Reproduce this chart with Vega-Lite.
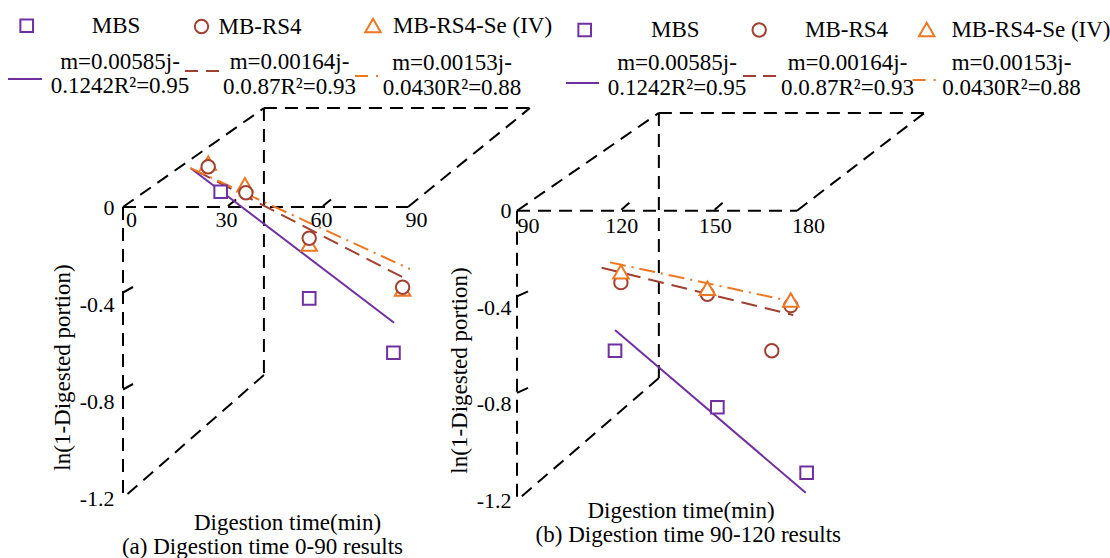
{
  "$schema": "https://vega.github.io/schema/vega-lite/v6.json",
  "width": 1110,
  "height": 558,
  "autosize": {"type": "none"},
  "padding": 0,
  "background": "white",
  "config": {
    "font": "Liberation Serif",
    "view": {"stroke": null},
    "axis": {"labelFont": "Liberation Serif", "titleFont": "Liberation Serif", "labelColor": "black", "titleColor": "black", "labelFontSize": 22, "titleFontSize": 23, "titleFontWeight": "normal", "grid": false, "domain": false, "ticks": false, "labelOverlap": false, "labelFlush": false},
    "legend": {"labelFont": "Liberation Serif", "labelFontSize": 23, "labelColor": "black", "labelLimit": 0, "padding": 0},
    "text": {"font": "Liberation Serif", "fontSize": 23, "color": "black"}
  },
  "datasets": {
    "box": [
      {"panel": "a", "t1": 0, "v1": 0, "t2": 90, "v2": 0},
      {"panel": "a", "t1": 0, "v1": 0, "t2": 0, "v2": -1.2},
      {"panel": "a", "t1": 0, "v1": 0, "t2": 44.5, "v2": 0.408},
      {"panel": "a", "t1": 44.5, "v1": 0.408, "t2": 128.5, "v2": 0.408},
      {"panel": "a", "t1": 90, "v1": 0, "t2": 128.5, "v2": 0.408},
      {"panel": "a", "t1": 44.5, "v1": 0.408, "t2": 44.5, "v2": -0.693},
      {"panel": "a", "t1": 44.5, "v1": -0.693, "t2": 0, "v2": -1.2},
      {"panel": "b", "t1": 90, "v1": 0, "t2": 180, "v2": 0},
      {"panel": "b", "t1": 90, "v1": 0, "t2": 90, "v2": -1.2},
      {"panel": "b", "t1": 90, "v1": 0, "t2": 135.6, "v2": 0.405},
      {"panel": "b", "t1": 135.6, "v1": 0.405, "t2": 221, "v2": 0.405},
      {"panel": "b", "t1": 180, "v1": 0, "t2": 221, "v2": 0.405},
      {"panel": "b", "t1": 135.6, "v1": 0.405, "t2": 135.6, "v2": -0.693},
      {"panel": "b", "t1": 135.6, "v1": -0.693, "t2": 90, "v2": -1.2}
    ],
    "ticks": [
      {"panel": "a", "axis": "y", "t": 0, "v": -0.4}, {"panel": "a", "axis": "y", "t": 0, "v": -0.8},
      {"panel": "a", "axis": "x", "t": 30, "v": 0}, {"panel": "a", "axis": "x", "t": 60, "v": 0},
      {"panel": "b", "axis": "y", "t": 90, "v": -0.4}, {"panel": "b", "axis": "y", "t": 90, "v": -0.8},
      {"panel": "b", "axis": "x", "t": 120, "v": 0}, {"panel": "b", "axis": "x", "t": 150, "v": 0}
    ],
    "pts": [
      {"panel": "a", "series": "MBS", "t": 30.85, "v": 0.063},
      {"panel": "a", "series": "MBS", "t": 58.8, "v": -0.377},
      {"panel": "a", "series": "MBS", "t": 85.4, "v": -0.601},
      {"panel": "a", "series": "MB-RS4", "t": 26.9, "v": 0.166},
      {"panel": "a", "series": "MB-RS4", "t": 38.8, "v": 0.059},
      {"panel": "a", "series": "MB-RS4", "t": 58.8, "v": -0.129},
      {"panel": "a", "series": "MB-RS4", "t": 88.3, "v": -0.331},
      {"panel": "a", "series": "MB-RS4-Se (IV)", "t": 26.9, "v": 0.181},
      {"panel": "a", "series": "MB-RS4-Se (IV)", "t": 38.5, "v": 0.092},
      {"panel": "a", "series": "MB-RS4-Se (IV)", "t": 58.8, "v": -0.153},
      {"panel": "a", "series": "MB-RS4-Se (IV)", "t": 88.3, "v": -0.338},
      {"panel": "b", "series": "MBS", "t": 121.5, "v": -0.58},
      {"panel": "b", "series": "MBS", "t": 154.4, "v": -0.814},
      {"panel": "b", "series": "MBS", "t": 183.1, "v": -1.085},
      {"panel": "b", "series": "MB-RS4", "t": 123.4, "v": -0.298},
      {"panel": "b", "series": "MB-RS4", "t": 151.2, "v": -0.346},
      {"panel": "b", "series": "MB-RS4", "t": 178.0, "v": -0.393},
      {"panel": "b", "series": "MB-RS4", "t": 171.9, "v": -0.58},
      {"panel": "b", "series": "MB-RS4-Se (IV)", "t": 123.4, "v": -0.253},
      {"panel": "b", "series": "MB-RS4-Se (IV)", "t": 151.2, "v": -0.321},
      {"panel": "b", "series": "MB-RS4-Se (IV)", "t": 178.0, "v": -0.37}
    ],
    "fits": [
      {"panel": "a", "series": "MBS", "fit": "m=0.00585j-|0.1242R²=0.95", "t": 21.4, "v": 0.16},
      {"panel": "a", "series": "MBS", "fit": "m=0.00585j-|0.1242R²=0.95", "t": 85.6, "v": -0.477},
      {"panel": "a", "series": "MB-RS4", "fit": "m=0.00164j-|0.0.87R²=0.93", "t": 23.0, "v": 0.15},
      {"panel": "a", "series": "MB-RS4", "fit": "m=0.00164j-|0.0.87R²=0.93", "t": 90, "v": -0.301},
      {"panel": "a", "series": "MB-RS4-Se (IV)", "fit": "m=0.00153j-|0.0430R²=0.88", "t": 21.2, "v": 0.161},
      {"panel": "a", "series": "MB-RS4-Se (IV)", "fit": "m=0.00153j-|0.0430R²=0.88", "t": 90.6, "v": -0.256},
      {"panel": "b", "series": "MBS", "fit": "m=0.00585j-|0.1242R²=0.95", "t": 121.5, "v": -0.494},
      {"panel": "b", "series": "MBS", "fit": "m=0.00585j-|0.1242R²=0.95", "t": 182.8, "v": -1.168},
      {"panel": "b", "series": "MB-RS4", "fit": "m=0.00164j-|0.0.87R²=0.93", "t": 117.2, "v": -0.236},
      {"panel": "b", "series": "MB-RS4", "fit": "m=0.00164j-|0.0.87R²=0.93", "t": 178.8, "v": -0.432},
      {"panel": "b", "series": "MB-RS4-Se (IV)", "fit": "m=0.00153j-|0.0430R²=0.88", "t": 119.9, "v": -0.214},
      {"panel": "b", "series": "MB-RS4-Se (IV)", "fit": "m=0.00153j-|0.0430R²=0.88", "t": 178.8, "v": -0.377}
    ]
  },
  "layer": [
    {
      "data": {"name": "box"},
      "transform": [{"filter": "datum.panel == 'a'"}],
      "mark": {"type": "rule", "color": "black", "strokeWidth": 2, "strokeDash": [13, 8]},
      "encoding": {
        "x": {"field": "t1", "type": "quantitative", "scale": {"domain": [-38.842, 311.68], "nice": false, "zero": false},
          "axis": {"orient": "bottom", "offset": -351, "values": [0, 30, 60, 90], "labelPadding": 2, "labelOffset": 8, "title": "Digestion time(min)", "titleX": 287, "titleY": 315.5, "titleAlign": "center", "titleBaseline": "middle", "titleAngle": 0, "zindex": 1}},
        "y": {"field": "v1", "type": "quantitative", "scale": {"domain": [-1.44742, 0.85361], "nice": false, "zero": false},
          "axis": {"orient": "left", "offset": -123, "values": [0, -0.4, -0.8, -1.2], "labelPadding": 9, "labelExpr": "(datum.value < 0 ? '-' : '') + format(abs(datum.value), datum.value == 0 ? 'd' : '.1f')", "title": "ln(1-Digested portion)", "titleX": -61, "titleY": 367, "titleAlign": "center", "titleBaseline": "middle", "titleAngle": 270, "zindex": 1}},
        "x2": {"field": "t2"},
        "y2": {"field": "v2"}
      }
    },
    {
      "data": {"name": "box"},
      "transform": [{"filter": "datum.panel == 'b'"}],
      "mark": {"type": "rule", "color": "black", "strokeWidth": 2, "strokeDash": [13, 8]},
      "encoding": {
        "x": {"field": "t1", "type": "quantitative", "scale": {"domain": [-76.18, 280.61], "nice": false, "zero": false},
          "axis": {"orient": "bottom", "offset": -347.3, "values": [90, 120, 150, 180], "labelPadding": 5, "labelOffset": 11, "title": "Digestion time(min)", "titleX": 680.5, "titleY": 299.5, "titleAlign": "center", "titleBaseline": "middle", "titleAngle": 0, "zindex": 1}},
        "y": {"field": "v1", "type": "quantitative", "scale": {"domain": [-1.4381, 0.87246], "nice": false, "zero": false},
          "axis": {"orient": "left", "offset": -517, "values": [0, -0.4, -0.8, -1.2], "labelPadding": 6, "labelExpr": "(datum.value < 0 ? '-' : '') + format(abs(datum.value), datum.value == 0 ? 'd' : '.1f')", "title": "ln(1-Digested portion)", "titleX": -57.5, "titleY": 370, "titleAlign": "center", "titleBaseline": "middle", "titleAngle": 270, "zindex": 1}},
        "x2": {"field": "t2"},
        "y2": {"field": "v2"}
      }
    },
    {
      "data": {"name": "ticks"},
      "transform": [{"filter": "datum.panel == 'a' && datum.axis == 'y'"}],
      "mark": {"type": "point", "shape": "M0,-1.15L1,-1.7", "size": 400, "filled": false, "color": "black", "strokeWidth": 2, "opacity": 1},
      "encoding": {
        "x": {"field": "t", "type": "quantitative", "scale": {"domain": [-38.842, 311.68], "nice": false, "zero": false}, "axis": null},
        "y": {"field": "v", "type": "quantitative", "scale": {"domain": [-1.44742, 0.85361], "nice": false, "zero": false}, "axis": null}
      }
    },
    {
      "data": {"name": "ticks"},
      "transform": [{"filter": "datum.panel == 'a' && datum.axis == 'x'"}],
      "mark": {"type": "point", "shape": "M1,-0.1L1.8,-0.75", "size": 400, "filled": false, "color": "black", "strokeWidth": 2, "opacity": 1},
      "encoding": {
        "x": {"field": "t", "type": "quantitative", "scale": {"domain": [-38.842, 311.68], "nice": false, "zero": false}, "axis": null},
        "y": {"field": "v", "type": "quantitative", "scale": {"domain": [-1.44742, 0.85361], "nice": false, "zero": false}, "axis": null}
      }
    },
    {
      "data": {"name": "ticks"},
      "transform": [{"filter": "datum.panel == 'b' && datum.axis == 'y'"}],
      "mark": {"type": "point", "shape": "M0,-1.1L1.1,-1.6", "size": 400, "filled": false, "color": "black", "strokeWidth": 2, "opacity": 1},
      "encoding": {
        "x": {"field": "t", "type": "quantitative", "scale": {"domain": [-76.18, 280.61], "nice": false, "zero": false}, "axis": null},
        "y": {"field": "v", "type": "quantitative", "scale": {"domain": [-1.4381, 0.87246], "nice": false, "zero": false}, "axis": null}
      }
    },
    {
      "data": {"name": "ticks"},
      "transform": [{"filter": "datum.panel == 'b' && datum.axis == 'x'"}],
      "mark": {"type": "point", "shape": "M1.1,-0.1L1.9,-0.8", "size": 400, "filled": false, "color": "black", "strokeWidth": 2, "opacity": 1},
      "encoding": {
        "x": {"field": "t", "type": "quantitative", "scale": {"domain": [-76.18, 280.61], "nice": false, "zero": false}, "axis": null},
        "y": {"field": "v", "type": "quantitative", "scale": {"domain": [-1.4381, 0.87246], "nice": false, "zero": false}, "axis": null}
      }
    },
    {
      "data": {"values": [{"caption": "(a) Digestion time 0-90 results"}]},
      "mark": {"type": "text", "align": "center", "baseline": "middle", "fontSize": 23},
      "encoding": {
        "x": {"datum": 44.05, "type": "quantitative", "scale": {"domain": [-38.842, 311.68], "nice": false, "zero": false}, "axis": null},
        "y": {"datum": -1.4037, "type": "quantitative", "scale": {"domain": [-1.44742, 0.85361], "nice": false, "zero": false}, "axis": null},
        "text": {"field": "caption"}
      }
    },
    {
      "data": {"values": [{"caption": "(b) Digestion time 90-120 results"}]},
      "mark": {"type": "text", "align": "center", "baseline": "middle", "fontSize": 23},
      "encoding": {
        "x": {"datum": 145.06, "type": "quantitative", "scale": {"domain": [-76.18, 280.61], "nice": false, "zero": false}, "axis": null},
        "y": {"datum": -1.3435, "type": "quantitative", "scale": {"domain": [-1.4381, 0.87246], "nice": false, "zero": false}, "axis": null},
        "text": {"field": "caption"}
      }
    },
    {
      "data": {"name": "fits"},
      "transform": [{"filter": "datum.panel == 'a' && datum.series == 'MBS'"}],
      "mark": {"type": "line", "strokeWidth": 2},
      "encoding": {
        "x": {"field": "t", "type": "quantitative", "scale": {"domain": [-38.842, 311.68], "nice": false, "zero": false}, "axis": null},
        "y": {"field": "v", "type": "quantitative", "scale": {"domain": [-1.44742, 0.85361], "nice": false, "zero": false}, "axis": null},
        "stroke": {"field": "fit", "type": "nominal", "scale": {"domain": ["m=0.00585j-|0.1242R²=0.95"], "range": ["#7030A0"]},
          "legend": {"orient": "none", "legendX": 7, "legendY": 61, "title": null, "symbolType": "stroke", "symbolSize": 1156, "symbolStrokeWidth": 2, "labelOffset": 77, "labelAlign": "center", "labelExpr": "split(datum.label, '|')", "encode": {"labels": {"update": {"dy": {"value": -17.3}, "lineHeight": {"value": 24}}}}}}
      }
    },
    {
      "data": {"name": "fits"},
      "transform": [{"filter": "datum.panel == 'a' && datum.series == 'MB-RS4'"}],
      "mark": {"type": "line", "strokeWidth": 2, "strokeDash": [16, 8]},
      "encoding": {
        "x": {"field": "t", "type": "quantitative", "scale": {"domain": [-38.842, 311.68], "nice": false, "zero": false}, "axis": null},
        "y": {"field": "v", "type": "quantitative", "scale": {"domain": [-1.44742, 0.85361], "nice": false, "zero": false}, "axis": null},
        "stroke": {"field": "fit", "type": "nominal", "scale": {"domain": ["m=0.00164j-|0.0.87R²=0.93"], "range": ["#A04030"]},
          "legend": {"orient": "none", "legendX": 184, "legendY": 53, "title": null, "symbolType": "stroke", "symbolSize": 1156, "symbolStrokeWidth": 2, "symbolDash": [13, 8], "labelOffset": 69.5, "labelAlign": "center", "labelExpr": "split(datum.label, '|')", "encode": {"labels": {"update": {"dy": {"value": -9}, "lineHeight": {"value": 25}}}}}}
      }
    },
    {
      "data": {"name": "fits"},
      "transform": [{"filter": "datum.panel == 'a' && datum.series == 'MB-RS4-Se (IV)'"}],
      "mark": {"type": "line", "strokeWidth": 2, "strokeDash": [16, 6, 2, 6]},
      "encoding": {
        "x": {"field": "t", "type": "quantitative", "scale": {"domain": [-38.842, 311.68], "nice": false, "zero": false}, "axis": null},
        "y": {"field": "v", "type": "quantitative", "scale": {"domain": [-1.44742, 0.85361], "nice": false, "zero": false}, "axis": null},
        "stroke": {"field": "fit", "type": "nominal", "scale": {"domain": ["m=0.00153j-|0.0430R²=0.88"], "range": ["#EE7722"]},
          "legend": {"orient": "none", "legendX": 353.75, "legendY": 62, "title": null, "symbolType": "stroke", "symbolSize": 650, "symbolStrokeWidth": 2, "symbolDash": [13, 8, 2, 8], "labelOffset": 70.25, "labelAlign": "center", "labelExpr": "split(datum.label, '|')", "encode": {"labels": {"update": {"dy": {"value": -13}, "lineHeight": {"value": 25}}}}}}
      }
    },
    {
      "data": {"name": "fits"},
      "transform": [{"filter": "datum.panel == 'b' && datum.series == 'MBS'"}],
      "mark": {"type": "line", "strokeWidth": 2},
      "encoding": {
        "x": {"field": "t", "type": "quantitative", "scale": {"domain": [-76.18, 280.61], "nice": false, "zero": false}, "axis": null},
        "y": {"field": "v", "type": "quantitative", "scale": {"domain": [-1.4381, 0.87246], "nice": false, "zero": false}, "axis": null},
        "stroke": {"field": "fit", "type": "nominal", "scale": {"domain": ["m=0.00585j-|0.1242R²=0.95"], "range": ["#7030A0"]},
          "legend": {"orient": "none", "legendX": 565, "legendY": 65.5, "title": null, "symbolType": "stroke", "symbolSize": 1089, "symbolStrokeWidth": 2, "labelOffset": 77, "labelAlign": "center", "labelExpr": "split(datum.label, '|')", "encode": {"labels": {"update": {"dy": {"value": -19.7}, "lineHeight": {"value": 25}}}}}}
      }
    },
    {
      "data": {"name": "fits"},
      "transform": [{"filter": "datum.panel == 'b' && datum.series == 'MB-RS4'"}],
      "mark": {"type": "line", "strokeWidth": 2, "strokeDash": [16, 8]},
      "encoding": {
        "x": {"field": "t", "type": "quantitative", "scale": {"domain": [-76.18, 280.61], "nice": false, "zero": false}, "axis": null},
        "y": {"field": "v", "type": "quantitative", "scale": {"domain": [-1.4381, 0.87246], "nice": false, "zero": false}, "axis": null},
        "stroke": {"field": "fit", "type": "nominal", "scale": {"domain": ["m=0.00164j-|0.0.87R²=0.93"], "range": ["#A04030"]},
          "legend": {"orient": "none", "legendX": 742, "legendY": 58.5, "title": null, "symbolType": "stroke", "symbolSize": 1089, "symbolStrokeWidth": 2, "symbolDash": [13, 7], "labelOffset": 70.5, "labelAlign": "center", "labelExpr": "split(datum.label, '|')", "encode": {"labels": {"update": {"dy": {"value": -12.7}, "lineHeight": {"value": 25}}}}}}
      }
    },
    {
      "data": {"name": "fits"},
      "transform": [{"filter": "datum.panel == 'b' && datum.series == 'MB-RS4-Se (IV)'"}],
      "mark": {"type": "line", "strokeWidth": 2, "strokeDash": [16, 6, 2, 6]},
      "encoding": {
        "x": {"field": "t", "type": "quantitative", "scale": {"domain": [-76.18, 280.61], "nice": false, "zero": false}, "axis": null},
        "y": {"field": "v", "type": "quantitative", "scale": {"domain": [-1.4381, 0.87246], "nice": false, "zero": false}, "axis": null},
        "stroke": {"field": "fit", "type": "nominal", "scale": {"domain": ["m=0.00153j-|0.0430R²=0.88"], "range": ["#EE7722"]},
          "legend": {"orient": "none", "legendX": 911.6, "legendY": 66, "title": null, "symbolType": "stroke", "symbolSize": 676, "symbolStrokeWidth": 2, "symbolDash": [13, 8, 2, 8], "labelOffset": 71.9, "labelAlign": "center", "labelExpr": "split(datum.label, '|')", "encode": {"labels": {"update": {"dy": {"value": -16.7}, "lineHeight": {"value": 25}}}}}}
      }
    },
    {
      "data": {"name": "pts"},
      "transform": [{"filter": "datum.panel == 'a' && datum.series == 'MBS'"}],
      "mark": {"type": "point", "shape": "square", "size": 160, "filled": true, "fill": "white", "strokeWidth": 2, "opacity": 1},
      "encoding": {
        "x": {"field": "t", "type": "quantitative", "scale": {"domain": [-38.842, 311.68], "nice": false, "zero": false}, "axis": null},
        "y": {"field": "v", "type": "quantitative", "scale": {"domain": [-1.44742, 0.85361], "nice": false, "zero": false}, "axis": null},
        "stroke": {"field": "series", "type": "nominal", "scale": {"domain": ["MBS"], "range": ["#7030A0"]},
          "legend": {"orient": "none", "legendX": 15.2, "legendY": 14.2, "title": null, "symbolType": "square", "symbolSize": 160, "symbolStrokeWidth": 2, "symbolFillColor": "white", "labelOffset": 53.5}}
      }
    },
    {
      "data": {"name": "pts"},
      "transform": [{"filter": "datum.panel == 'a' && datum.series == 'MB-RS4-Se (IV)'"}],
      "mark": {"type": "point", "shape": "triangle-up", "size": 240, "filled": true, "fill": "white", "strokeWidth": 2, "opacity": 1},
      "encoding": {
        "x": {"field": "t", "type": "quantitative", "scale": {"domain": [-38.842, 311.68], "nice": false, "zero": false}, "axis": null},
        "y": {"field": "v", "type": "quantitative", "scale": {"domain": [-1.44742, 0.85361], "nice": false, "zero": false}, "axis": null},
        "stroke": {"field": "series", "type": "nominal", "scale": {"domain": ["MB-RS4-Se (IV)"], "range": ["#EE7722"]},
          "legend": {"orient": "none", "legendX": 361.5, "legendY": 14, "title": null, "symbolType": "triangle-up", "symbolSize": 240, "symbolStrokeWidth": 2, "symbolFillColor": "white", "labelOffset": 8.5}}
      }
    },
    {
      "data": {"name": "pts"},
      "transform": [{"filter": "datum.panel == 'a' && datum.series == 'MB-RS4'"}],
      "mark": {"type": "point", "shape": "circle", "size": 180, "filled": true, "fill": "white", "strokeWidth": 2, "opacity": 1},
      "encoding": {
        "x": {"field": "t", "type": "quantitative", "scale": {"domain": [-38.842, 311.68], "nice": false, "zero": false}, "axis": null},
        "y": {"field": "v", "type": "quantitative", "scale": {"domain": [-1.44742, 0.85361], "nice": false, "zero": false}, "axis": null},
        "stroke": {"field": "series", "type": "nominal", "scale": {"domain": ["MB-RS4"], "range": ["#A04030"]},
          "legend": {"orient": "none", "legendX": 190, "legendY": 15, "title": null, "symbolType": "circle", "symbolSize": 180, "symbolStrokeWidth": 2, "symbolFillColor": "white", "labelOffset": 5.5}}
      }
    },
    {
      "data": {"name": "pts"},
      "transform": [{"filter": "datum.panel == 'b' && datum.series == 'MBS'"}],
      "mark": {"type": "point", "shape": "square", "size": 160, "filled": true, "fill": "white", "strokeWidth": 2, "opacity": 1},
      "encoding": {
        "x": {"field": "t", "type": "quantitative", "scale": {"domain": [-76.18, 280.61], "nice": false, "zero": false}, "axis": null},
        "y": {"field": "v", "type": "quantitative", "scale": {"domain": [-1.4381, 0.87246], "nice": false, "zero": false}, "axis": null},
        "stroke": {"field": "series", "type": "nominal", "scale": {"domain": ["MBS"], "range": ["#7030A0"]},
          "legend": {"orient": "none", "legendX": 573.2, "legendY": 18.5, "title": null, "symbolType": "square", "symbolSize": 160, "symbolStrokeWidth": 2, "symbolFillColor": "white", "labelOffset": 54.8}}
      }
    },
    {
      "data": {"name": "pts"},
      "transform": [{"filter": "datum.panel == 'b' && datum.series == 'MB-RS4'"}],
      "mark": {"type": "point", "shape": "circle", "size": 180, "filled": true, "fill": "white", "strokeWidth": 2, "opacity": 1},
      "encoding": {
        "x": {"field": "t", "type": "quantitative", "scale": {"domain": [-76.18, 280.61], "nice": false, "zero": false}, "axis": null},
        "y": {"field": "v", "type": "quantitative", "scale": {"domain": [-1.4381, 0.87246], "nice": false, "zero": false}, "axis": null},
        "stroke": {"field": "series", "type": "nominal", "scale": {"domain": ["MB-RS4"], "range": ["#A04030"]},
          "legend": {"orient": "none", "legendX": 747.7, "legendY": 18.5, "title": null, "symbolType": "circle", "symbolSize": 180, "symbolStrokeWidth": 2, "symbolFillColor": "white", "labelOffset": 34.3}}
      }
    },
    {
      "data": {"name": "pts"},
      "transform": [{"filter": "datum.panel == 'b' && datum.series == 'MB-RS4-Se (IV)'"}],
      "mark": {"type": "point", "shape": "triangle-up", "size": 240, "filled": true, "fill": "white", "strokeWidth": 2, "opacity": 1},
      "encoding": {
        "x": {"field": "t", "type": "quantitative", "scale": {"domain": [-76.18, 280.61], "nice": false, "zero": false}, "axis": null},
        "y": {"field": "v", "type": "quantitative", "scale": {"domain": [-1.4381, 0.87246], "nice": false, "zero": false}, "axis": null},
        "stroke": {"field": "series", "type": "nominal", "scale": {"domain": ["MB-RS4-Se (IV)"], "range": ["#EE7722"]},
          "legend": {"orient": "none", "legendX": 915.2, "legendY": 18, "title": null, "symbolType": "triangle-up", "symbolSize": 240, "symbolStrokeWidth": 2, "symbolFillColor": "white", "labelOffset": 13.2}}
      }
    }
  ],
  "resolve": {"scale": {"x": "independent", "y": "independent", "stroke": "independent"}, "axis": {"x": "independent", "y": "independent"}, "legend": {"stroke": "independent"}}
}
